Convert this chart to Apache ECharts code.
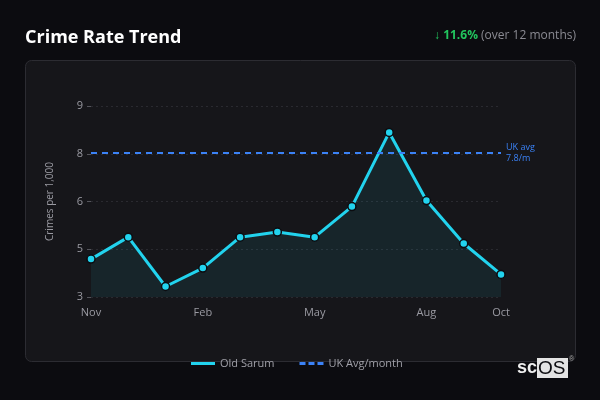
<!DOCTYPE html>
<html><head><meta charset="utf-8">
<script src="https://cdn.jsdelivr.net/npm/echarts@6/dist/echarts.min.js"></script>
<style>html,body{margin:0;padding:0;background:#0c0c10;}#c{width:600px;height:400px;}</style>
</head><body><div id="c"></div>
<script>
const months = ['Nov','Dec','Jan','Feb','Mar','Apr','May','Jun','Jul','Aug','Sep','Oct'];
const oldSarum = [4.19, 4.88, 3.33, 3.91, 4.88, 5.04, 4.88, 5.84, 8.17, 6.03, 4.68, 3.71];
const ukAvgLevel = 7.53;
const ukAvgLabel = 'UK avg\n7.8/m';
const changeText = '11.6%';
const shownMonthIdx = [0, 3, 6, 9, 11];

const chart = echarts.init(document.getElementById('c'), null, {renderer:'canvas'});
const font = 'Open Sans, Noto Sans, sans-serif';
chart.setOption({
  backgroundColor: '#0c0c10',
  textStyle: {fontFamily: font},
  animation: false,
  graphic: [
    {type:'rect', left:25, top:60, z:-10, shape:{width:550, height:301, r:6},
     style:{fill:'#16161a', stroke:'#2c2c32', lineWidth:1}},
    {type:'text', left:25, top:29, style:{text:'Crime Rate Trend', fill:'#ffffff', font:'bold 18px ' + font}},
    {type:'text', right:24, top:30, style:{
      text:'{a|↓ ' + changeText + '}{b| (over 12 months)}',
      rich:{a:{fill:'#22c55e', font:'bold 12px ' + font}, b:{fill:'#8a8a92', font:'12px ' + font}}}},
    {type:'text', left:517, top:359, style:{text:'sc', fill:'#eeeeee', font:'bold 18px Liberation Sans, Arial, sans-serif'}},
    {type:'rect', left:537, top:358, shape:{width:31, height:20}, style:{fill:'#e4e4e4'}},
    {type:'text', left:538, top:359, style:{text:'OS', fill:'#0c0c10', font:'19px Liberation Sans, Arial, sans-serif'}},
    {type:'text', left:569, top:356, style:{text:'®', fill:'#aaaaaa', font:'7px sans-serif'}}
  ],
  grid: {left:91, right:99, top:106, bottom:103},
  legend: {
    bottom: 26, left: 186, itemGap: 25, itemWidth: 24, itemHeight: 3,
    textStyle: {color:'#a0a0a8', fontSize:11, fontFamily: font},
    data: [
      {name:'Old Sarum', icon:'path://M0,0 L24,0 L24,3 L0,3 Z', itemStyle:{color:'#22d3ee', borderWidth:0}},
      {name:'UK Avg/month', icon:'path://M0,0 L6,0 L6,3 L0,3 Z M9,0 L15,0 L15,3 L9,3 Z M18,0 L24,0 L24,3 L18,3 Z', itemStyle:{color:'#3b82f6', borderWidth:0}}
    ]
  },
  xAxis: {
    type:'category', data: months, boundaryGap:false,
    axisLine:{show:false}, axisTick:{show:false},
    axisLabel:{color:'#9a9aa2', fontSize:11, margin:10,
      interval:(i)=>shownMonthIdx.indexOf(i) >= 0}
  },
  yAxis: {
    type:'value', min:3, max:9, interval:1.5,
    name:'Crimes per 1,000', nameLocation:'middle', nameGap:36,
    nameTextStyle:{color:'#9a9aa2', fontSize:10},
    axisLine:{show:false},
    axisTick:{show:true, length:4, lineStyle:{color:'#55555c'}},
    axisLabel:{color:'#9a9aa2', fontSize:11, margin:8, formatter:(v)=>v.toFixed(0)},
    splitLine:{lineStyle:{color:'#2a2a30', type:[2,3]}}
  },
  series: [
    {name:'Old Sarum', type:'line', data: oldSarum,
     symbol:'circle', symbolSize:8,
     lineStyle:{color:'#22d3ee', width:3},
     itemStyle:{color:'#22d3ee', borderColor:'#0c0c10', borderWidth:1.5},
     areaStyle:{color:'rgba(34,211,238,0.11)'},
     markLine:{silent:true, symbol:'none',
       lineStyle:{color:'#3b82f6', type:[6,5], width:2},
       label:{formatter: ukAvgLabel, position:'end', color:'#3b82f6', fontSize:9, distance:5, align:'left', lineHeight:11},
       data:[{yAxis: ukAvgLevel}]}
    },
    {name:'UK Avg/month', type:'line', data:[], lineStyle:{color:'#3b82f6', type:'dashed'}, itemStyle:{color:'#3b82f6'}}
  ]
});
</script></body></html>
